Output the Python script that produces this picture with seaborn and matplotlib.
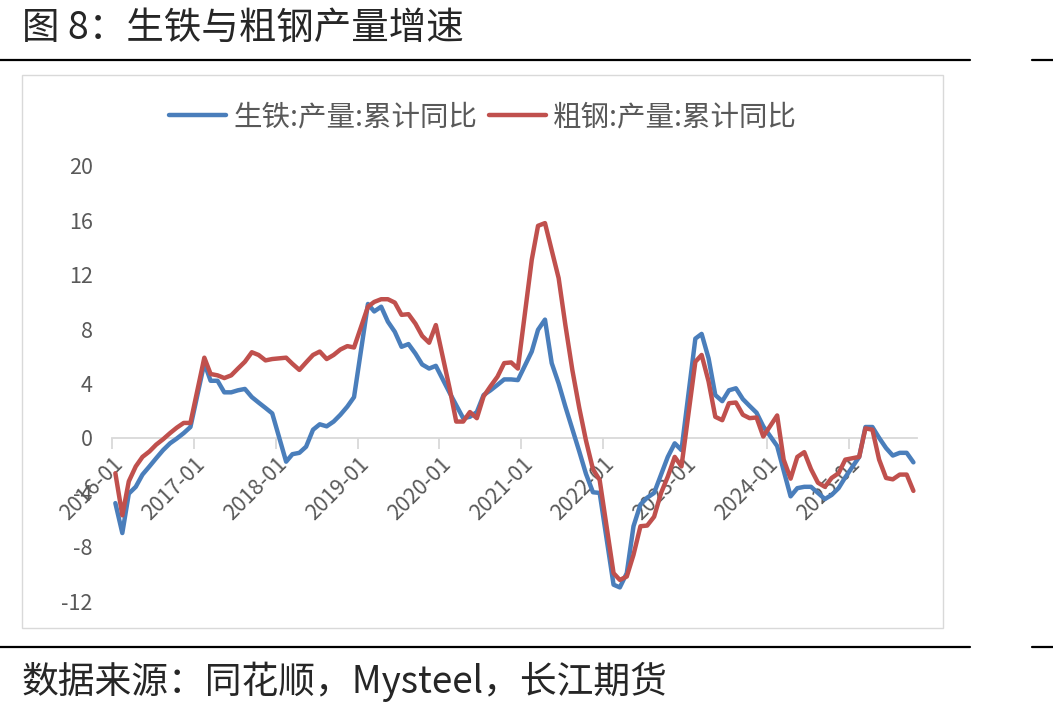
import pandas as pd
import matplotlib.pyplot as plt
import matplotlib.dates as mdates
import seaborn as sns
from matplotlib.lines import Line2D
from matplotlib.patches import Rectangle

# monthly cumulative yoy (%), January missing after 2016
months = (['2016-%02d' % m for m in range(1, 13)]
          + ['%d-%02d' % (y, m) for y in range(2017, 2025) for m in range(2, 13)]
          + ['2025-%02d' % m for m in range(2, 11)])

pig_iron = [
    -4.8, -7.0, -4.1, -3.6, -2.7, -2.1, -1.5, -0.9, -0.4, -0.05, 0.35, 0.8,   # 2016
    5.5, 4.2, 4.2, 3.35, 3.35, 3.5, 3.6, 3.0, 2.6, 2.2, 1.8,                 # 2017
    -1.75, -1.2, -1.1, -0.65, 0.6, 1.0, 0.85, 1.2, 1.7, 2.3, 3.0,            # 2018
    9.85, 9.3, 9.65, 8.55, 7.8, 6.7, 6.9, 6.2, 5.4, 5.1, 5.3,                # 2019
    3.3, 2.4, 1.45, 1.55, 1.9, 3.15, 3.5, 3.9, 4.3, 4.3, 4.25,               # 2020
    6.35, 7.95, 8.7, 5.5, 4.0, 2.3, 0.65, -1.0, -2.65, -4.0, -4.05,          # 2021
    -10.8, -11.0, -9.95, -6.5, -4.9, -4.4, -4.05, -2.7, -1.4, -0.4, -0.9,    # 2022
    7.3, 7.65, 5.85, 3.15, 2.7, 3.5, 3.65, 2.85, 2.35, 1.85, 0.85,           # 2023
    -0.6, -2.4, -4.3, -3.7, -3.6, -3.6, -4.05, -4.5, -4.2, -3.7, -2.9,       # 2024
    -1.4, 0.8, 0.8, 0.0, -0.75, -1.3, -1.1, -1.1, -1.8,                      # 2025
]

crude_steel = [
    -2.6, -5.7, -3.2, -2.1, -1.4, -1.0, -0.5, -0.1, 0.35, 0.75, 1.1, 1.1,    # 2016
    5.9, 4.7, 4.6, 4.4, 4.6, 5.1, 5.6, 6.3, 6.1, 5.7, 5.8,                   # 2017
    5.9, 5.45, 5.0, 5.55, 6.1, 6.35, 5.8, 6.1, 6.5, 6.75, 6.65,              # 2018
    9.65, 10.0, 10.2, 10.2, 9.95, 9.05, 9.1, 8.4, 7.5, 7.0, 8.3,             # 2019
    3.6, 1.2, 1.2, 1.9, 1.45, 3.05, 3.8, 4.5, 5.5, 5.55, 5.1,                # 2020
    13.1, 15.6, 15.8, 13.8, 11.75, 8.3, 5.0, 2.2, -0.2, -2.3, -3.1,          # 2021
    -9.95, -10.45, -10.2, -8.6, -6.5, -6.45, -5.8, -4.05, -2.85, -1.4, -2.1, # 2022
    5.6, 6.1, 4.15, 1.55, 1.3, 2.55, 2.6, 1.7, 1.45, 1.5, 0.1,               # 2023
    1.65, -1.6, -3.0, -1.4, -1.05, -2.3, -3.3, -3.6, -2.95, -2.6, -1.6,      # 2024
    -1.4, 0.7, 0.6, -1.6, -2.95, -3.05, -2.7, -2.7, -3.9,                    # 2025
]

series_names = ['生铁:产量:累计同比', '粗钢:产量:累计同比']
colors = ['#4a7ebb', '#c0504d']

# points sit mid-month on the date axis
dates = pd.to_datetime(months) + pd.Timedelta(days=15)
df = pd.DataFrame({
    'date': list(dates) * 2,
    'value': pig_iron + crude_steel,
    'series': [series_names[0]] * len(months) + [series_names[1]] * len(months),
})

sns.set_theme(style='white')
plt.rcParams['font.family'] = ['Noto Sans CJK SC', 'DejaVu Sans']
plt.rcParams['font.weight'] = 'light'
plt.rcParams['axes.unicode_minus'] = False

W, H = 1053, 712
fig = plt.figure(figsize=(W / 100, H / 100), dpi=100)
ax = fig.add_axes([112 / W, (H - 601) / H, 805 / W, 435 / H])

sns.lineplot(data=df, x='date', y='value', hue='series', hue_order=series_names,
             palette=colors, linewidth=3.2, ax=ax, legend=False, sort=False)
for ln in ax.get_lines():
    ln.set_solid_joinstyle('round')
    ln.set_clip_on(False)

ax.set_xlim(pd.Timestamp('2016-01-01'), pd.Timestamp('2025-11-01'))
ax.set_ylim(-12, 20)
ax.set_yticks(range(-12, 21, 4))
ax.xaxis.set_major_locator(mdates.YearLocator())
ax.xaxis.set_major_formatter(mdates.DateFormatter('%Y-%m'))
ax.set_xlabel('')
ax.set_ylabel('')

for s in ['top', 'right', 'left']:
    ax.spines[s].set_visible(False)
ax.spines['bottom'].set_position(('data', 0))
ax.spines['bottom'].set_color('#d9d9d9')
ax.spines['bottom'].set_linewidth(1.3)
ax.spines['bottom'].set_zorder(0)

ax.tick_params(axis='x', length=8, width=1.3, color='#d9d9d9', direction='out',
               labelsize=15.5, labelcolor='#595959', pad=3, bottom=True)
ax.tick_params(axis='y', length=0, labelsize=15.5, labelcolor='#595959', pad=14)
for lab in ax.get_xticklabels():
    lab.set_rotation(45)
    lab.set_ha('right')
    lab.set_rotation_mode('anchor')

handles = [Line2D([], [], color=c, lw=3.2) for c in colors]
fig.legend(handles, series_names, loc='center', bbox_to_anchor=(483 / W, 1 - 117 / H),
           ncol=2, frameon=False, fontsize=20.5, handlelength=2.0, handletextpad=0.25,
           columnspacing=0.4, labelcolor='#595959')

fig.text(22 / W, 1 - 28 / H, '图 8：生铁与粗钢产量增速', fontsize=27, va='center', ha='left')
fig.text(22 / W, 1 - 682 / H, '数据来源：同花顺，Mysteel，长江期货', fontsize=26.5,
         va='center', ha='left')

for y in [60, 647]:
    fig.add_artist(Line2D([0, 970 / W], [1 - y / H] * 2, color='black', lw=1.6))
    fig.add_artist(Line2D([1032 / W, 1], [1 - y / H] * 2, color='black', lw=1.6))

fig.add_artist(Rectangle((22 / W, 1 - 628 / H), (943 - 22) / W, (628 - 75) / H,
                         transform=fig.transFigure, fill=False,
                         edgecolor='#d9d9d9', lw=1))

fig.savefig('out.png', dpi=100)
